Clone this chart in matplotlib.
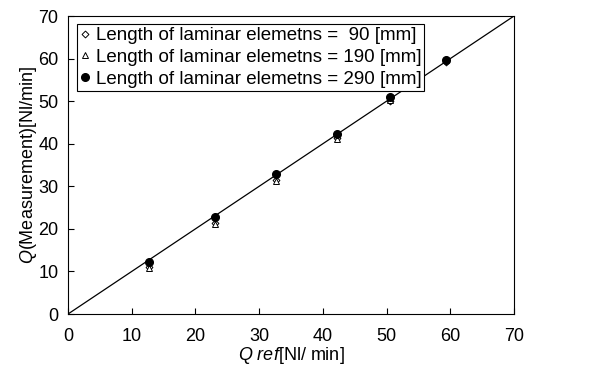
import numpy as np
import matplotlib
matplotlib.use("Agg")
import matplotlib.pyplot as plt

plt.rcParams['font.family'] = ['Liberation Sans', 'DejaVu Sans']
plt.rcParams['mathtext.fontset'] = 'custom'
plt.rcParams['mathtext.rm'] = 'Liberation Sans'
plt.rcParams['mathtext.it'] = 'Liberation Sans:italic'

# reference flow vs measured flow for the three element lengths
q_ref = [12.7, 23.0, 32.6, 42.2, 50.6, 59.3]
q_90 = [11.0, 21.3, 31.4, 41.3, 50.0, 59.2]
q_190 = [10.8, 21.2, 31.3, 41.2, 50.2, 60.0]
q_290 = [12.2, 22.8, 32.8, 42.4, 50.9, 59.6]

labels = ['Length of laminar elemetns =  90 [mm]',
          'Length of laminar elemetns = 190 [mm]',
          'Length of laminar elemetns = 290 [mm]']

fig = plt.figure(figsize=(5.93, 3.74), dpi=100)
ax = fig.add_axes([0.1147, 0.1604, 0.7521, 0.7968])

ax.plot([0, 70], [0, 70], color='black', lw=0.9, zorder=1)
ax.plot(q_ref, q_90, ls='none', marker='D', ms=3.5, mfc='white', mec='black',
        mew=0.7, label=labels[0], zorder=2)
ax.plot(q_ref, q_190, ls='none', marker='^', ms=5, mfc='white', mec='black',
        mew=0.7, label=labels[1], zorder=3)
ax.plot(q_ref, q_290, ls='none', marker='o', ms=5.5, mfc='black', mec='black',
        label=labels[2], zorder=4)

ax.set_xlim(0, 70)
ax.set_ylim(0, 70)
ax.set_xticks(np.arange(0, 71, 10))
ax.set_yticks(np.arange(0, 71, 10))
ax.tick_params(direction='in', length=4, width=0.8, labelsize=13)
ax.tick_params(axis='x', pad=10)
ax.tick_params(axis='y', pad=7)
for s in ax.spines.values():
    s.set_linewidth(0.8)

ax.set_xlabel(r'$Q\ ref$[Nl/ min]', fontsize=13, labelpad=0)
ax.set_ylabel(r'$Q$(Measurement)[Nl/min]', fontsize=13, labelpad=-0.5)

leg = ax.legend(loc='upper left', bbox_to_anchor=(0.012, 0.985), fontsize=13.5,
                frameon=True, fancybox=False, edgecolor='black', framealpha=1,
                handlelength=0.5, handletextpad=0.35, borderpad=0.15,
                labelspacing=0.25, borderaxespad=0.2)
leg.get_frame().set_linewidth(0.8)

fig.savefig('out.png', dpi=100)
